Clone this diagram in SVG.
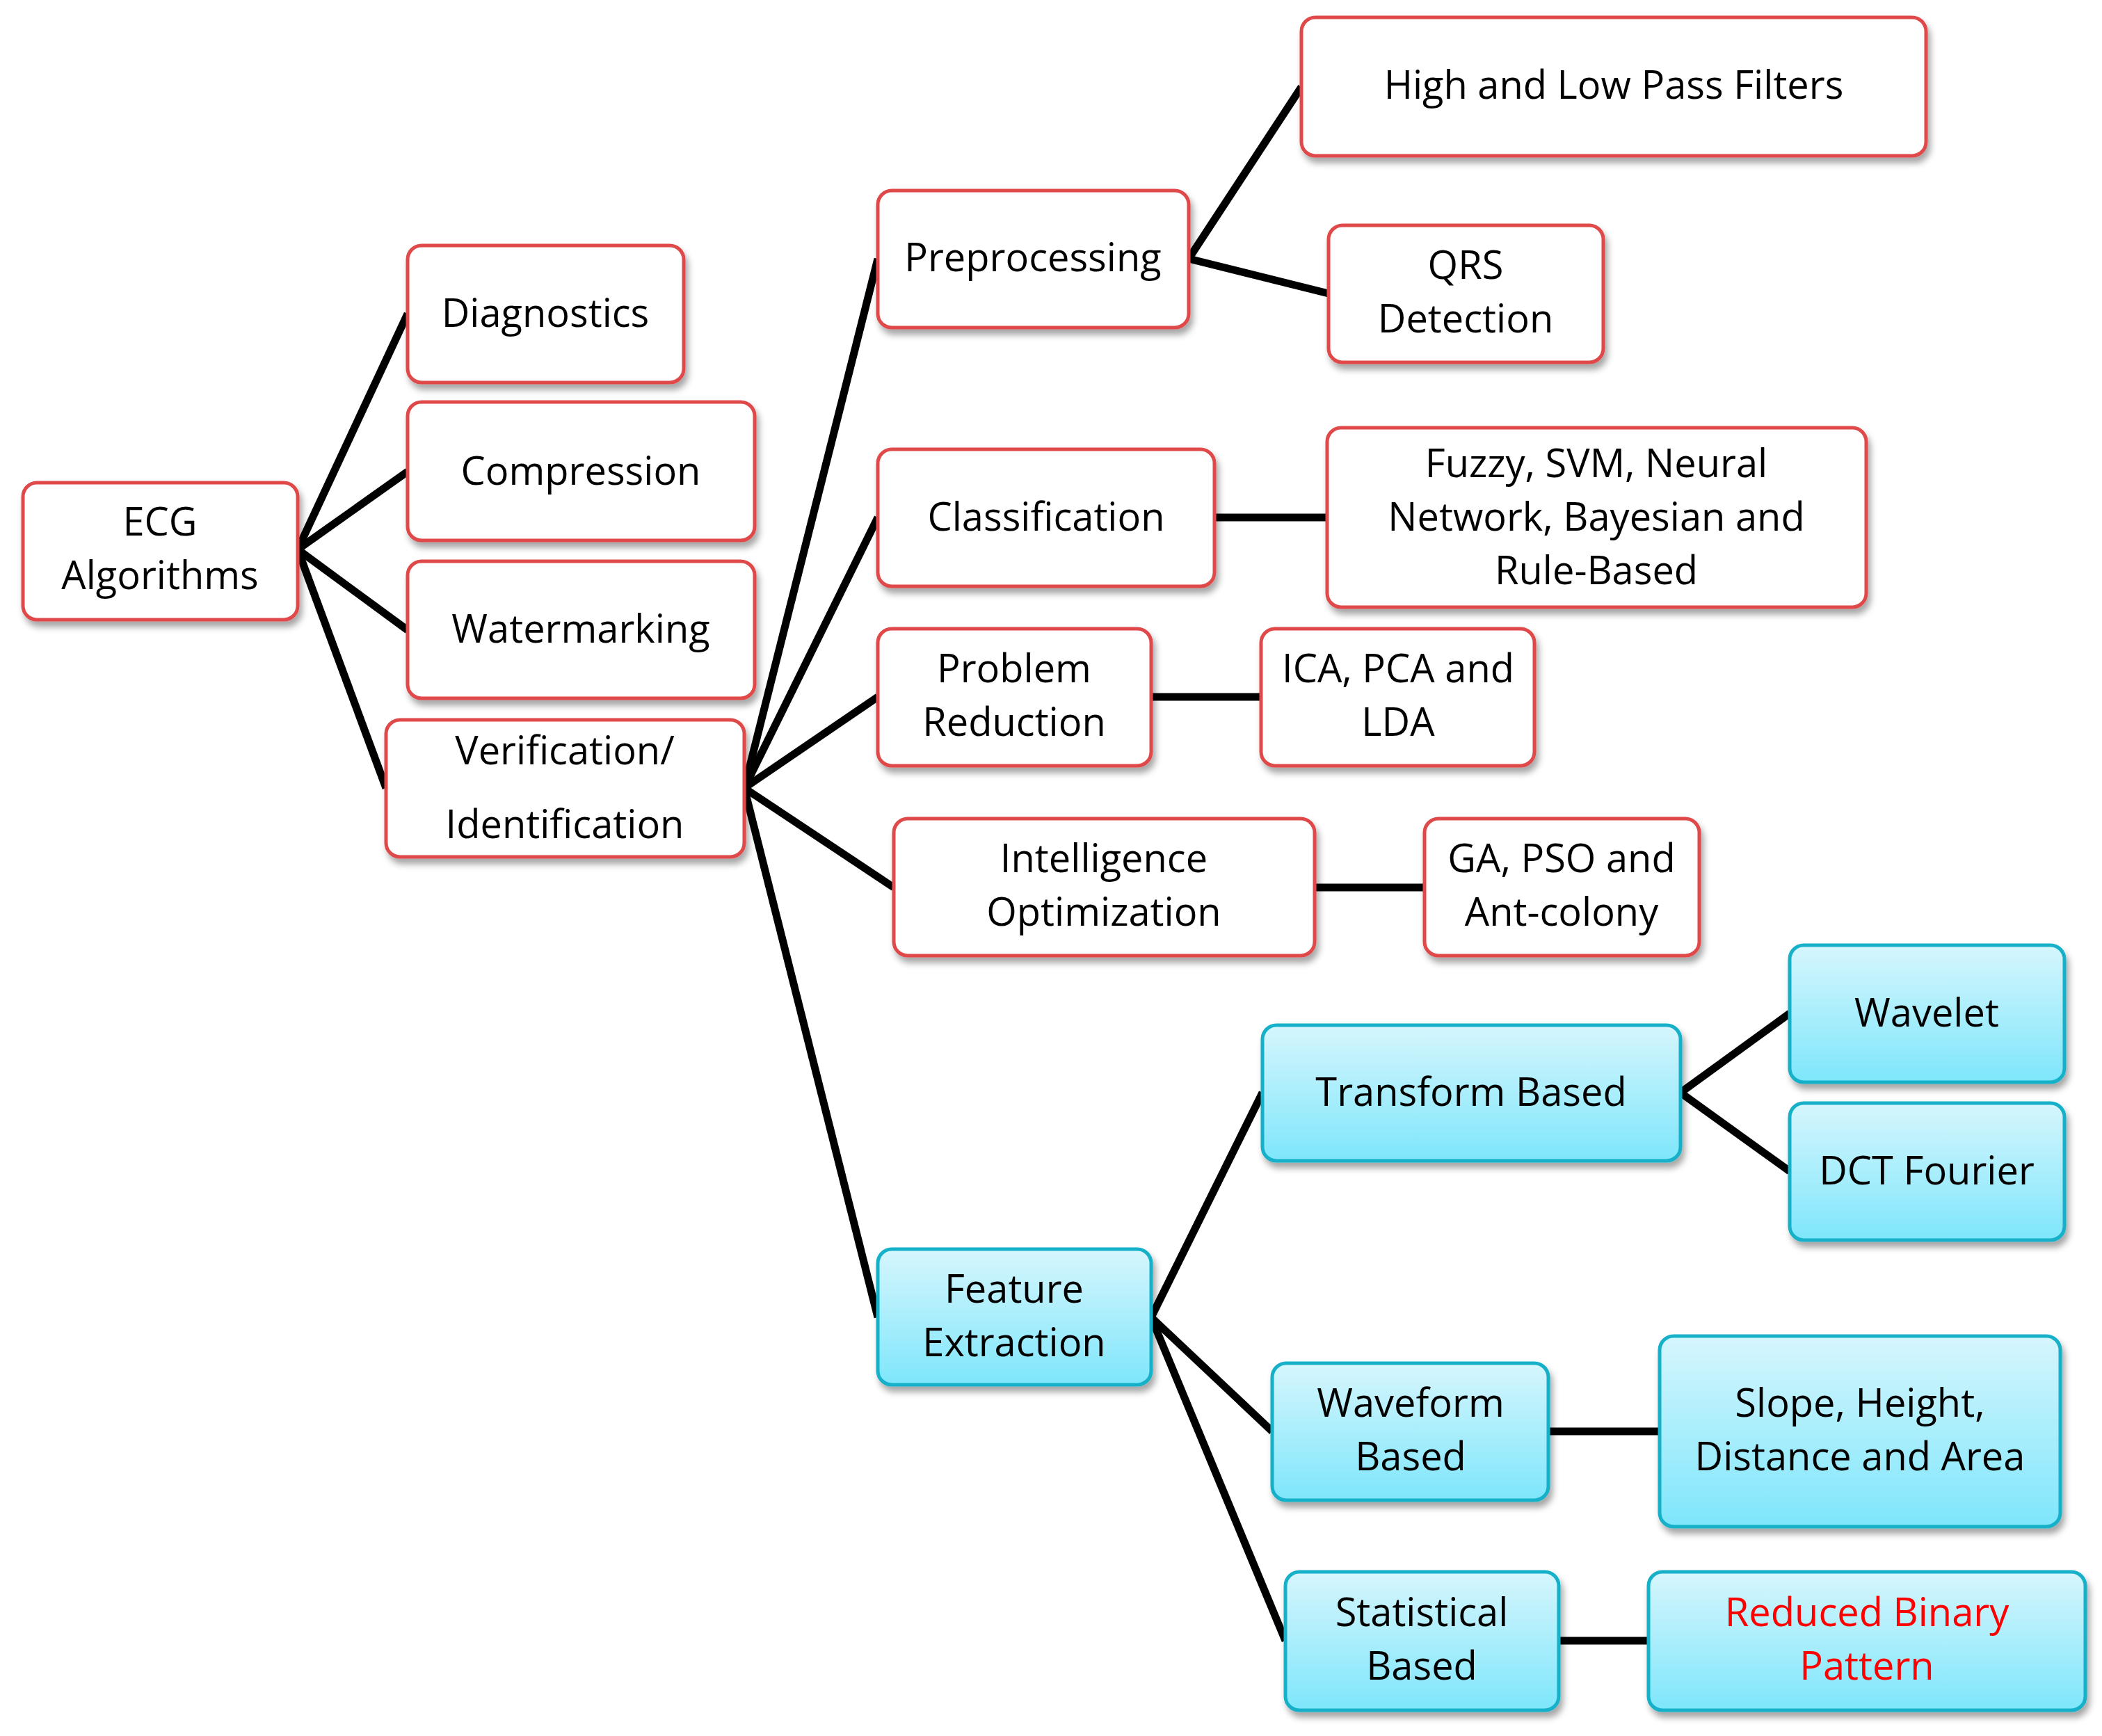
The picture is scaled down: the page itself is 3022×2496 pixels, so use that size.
<svg xmlns="http://www.w3.org/2000/svg" width="3022" height="2496" viewBox="0 0 3022 2496">
<defs>
<linearGradient id="cy" x1="0" y1="0" x2="0" y2="1"><stop offset="0" stop-color="#d6f6fd"/><stop offset="1" stop-color="#7ee6fb"/></linearGradient>
<filter id="sh" x="-10%" y="-10%" width="125%" height="130%"><feDropShadow dx="4" dy="8" stdDeviation="5" flood-color="#000" flood-opacity="0.35"/></filter>
</defs>
<style>
.r{fill:#fff;stroke:#e04848;stroke-width:5;filter:url(#sh)}
.c{fill:url(#cy);stroke:#14b0c8;stroke-width:5;filter:url(#sh)}
text{font-family:"Open Sans","Liberation Sans",sans-serif;font-size:56px;fill:#000;text-anchor:middle}
.red{fill:#f00}
#conn line{stroke:#000;stroke-width:11}
</style>
<rect width="3022" height="2496" fill="#fff"/>
<g id="conn">
<line x1="428" y1="790" x2="586" y2="451"/><line x1="428" y1="790" x2="586" y2="678"/><line x1="428" y1="790" x2="586" y2="906"/><line x1="428" y1="790" x2="555" y2="1133"/>
<line x1="1070" y1="1133" x2="1262" y2="372"/><line x1="1070" y1="1133" x2="1262" y2="744"/><line x1="1070" y1="1133" x2="1262" y2="1002"/><line x1="1070" y1="1133" x2="1285" y2="1276"/><line x1="1070" y1="1133" x2="1262" y2="1894"/>
<line x1="1709" y1="372" x2="1871" y2="125"/><line x1="1709" y1="372" x2="1910" y2="422"/>
<line x1="1746" y1="744" x2="1908" y2="744"/><line x1="1655" y1="1002" x2="1813" y2="1002"/><line x1="1890" y1="1276" x2="2048" y2="1276"/>
<line x1="1655" y1="1894" x2="1815" y2="1571"/><line x1="1655" y1="1894" x2="1829" y2="2058"/><line x1="1655" y1="1894" x2="1848" y2="2359"/>
<line x1="2416" y1="1571" x2="2573" y2="1457"/><line x1="2416" y1="1571" x2="2573" y2="1684"/>
<line x1="2226" y1="2058" x2="2386" y2="2058"/><line x1="2241" y1="2359" x2="2370" y2="2359"/>
</g>
<g id="ecg"><rect class="r" x="33" y="694" width="395" height="197" rx="20"/><text x="230" y="770">ECG</text><text x="230" y="847">Algorithms</text></g>
<g id="diag"><rect class="r" x="586" y="353" width="397" height="197" rx="20"/><text x="784" y="470">Diagnostics</text></g>
<g id="comp"><rect class="r" x="586" y="578" width="499" height="199" rx="20"/><text x="835" y="697">Compression</text></g>
<g id="water"><rect class="r" x="586" y="807" width="499" height="197" rx="20"/><text x="835" y="924">Watermarking</text></g>
<g id="verif"><rect class="r" x="555" y="1035" width="515" height="197" rx="20"/><text x="812" y="1099">Verification/</text><text x="812" y="1205">Identification</text></g>
<g id="prep"><rect class="r" x="1262" y="274" width="447" height="197" rx="20"/><text x="1485" y="390">Preprocessing</text></g>
<g id="hl"><rect class="r" x="1871" y="25" width="898" height="199" rx="20"/><text x="2320" y="142">High and Low Pass Filters</text></g>
<g id="qrs"><rect class="r" x="1910" y="324" width="395" height="197" rx="20"/><text x="2107" y="401">QRS</text><text x="2107" y="478">Detection</text></g>
<g id="cls"><rect class="r" x="1262" y="646" width="484" height="197" rx="20"/><text x="1504" y="763">Classification</text></g>
<g id="fuzzy"><rect class="r" x="1908" y="615" width="775" height="258" rx="20"/><text x="2295" y="686">Fuzzy, SVM, Neural</text><text x="2295" y="763">Network, Bayesian and</text><text x="2295" y="840">Rule-Based</text></g>
<g id="pr"><rect class="r" x="1262" y="904" width="393" height="197" rx="20"/><text x="1458" y="981">Problem</text><text x="1458" y="1058">Reduction</text></g>
<g id="ica"><rect class="r" x="1813" y="904" width="393" height="197" rx="20"/><text x="2010" y="981">ICA, PCA and</text><text x="2010" y="1058">LDA</text></g>
<g id="intel"><rect class="r" x="1285" y="1177" width="605" height="197" rx="20"/><text x="1587" y="1254">Intelligence</text><text x="1587" y="1331">Optimization</text></g>
<g id="ga"><rect class="r" x="2048" y="1177" width="395" height="197" rx="20"/><text x="2245" y="1254">GA, PSO and</text><text x="2245" y="1331">Ant-colony</text></g>
<g id="feat"><rect class="c" x="1262" y="1796" width="393" height="195" rx="20"/><text x="1458" y="1873">Feature</text><text x="1458" y="1950">Extraction</text></g>
<g id="trans"><rect class="c" x="1815" y="1474" width="601" height="195" rx="20"/><text x="2115" y="1590">Transform Based</text></g>
<g id="wav"><rect class="c" x="2573" y="1359" width="395" height="197" rx="20"/><text x="2770" y="1476">Wavelet</text></g>
<g id="dct"><rect class="c" x="2573" y="1586" width="395" height="197" rx="20"/><text x="2770" y="1703">DCT Fourier</text></g>
<g id="wf"><rect class="c" x="1829" y="1960" width="397" height="197" rx="20"/><text x="2028" y="2037">Waveform</text><text x="2028" y="2114">Based</text></g>
<g id="slope"><rect class="c" x="2386" y="1921" width="576" height="274" rx="20"/><text x="2674" y="2037">Slope, Height,</text><text x="2674" y="2114">Distance and Area</text></g>
<g id="stat"><rect class="c" x="1848" y="2260" width="393" height="199" rx="20"/><text x="2044" y="2338">Statistical</text><text x="2044" y="2415">Based</text></g>
<g id="rbp"><rect class="c" x="2370" y="2260" width="628" height="199" rx="20"/><text class="red" x="2684" y="2338">Reduced Binary</text><text class="red" x="2684" y="2415">Pattern</text></g>
</svg>
